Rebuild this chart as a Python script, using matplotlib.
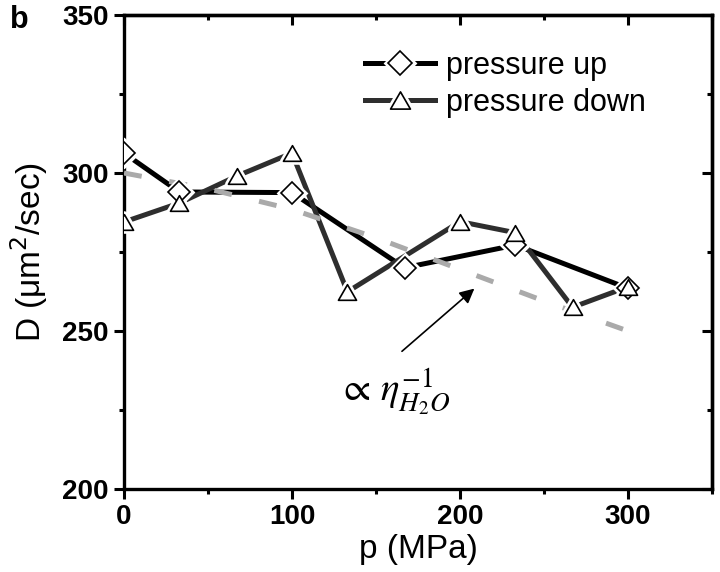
import matplotlib
matplotlib.use("Agg")
import matplotlib.pyplot as plt
from matplotlib.path import Path
from matplotlib.ticker import MultipleLocator

plt.rcParams['font.family'] = ['Liberation Sans', 'DejaVu Sans']

# data
p_up = [0, 33, 100, 167, 233, 300]
D_up = [306.3, 294.0, 293.8, 270.0, 277.2, 263.5]
p_down = [0, 33, 67, 100, 133, 200, 233, 267, 300]
D_down = [284.5, 290.5, 299.0, 306.3, 262.4, 284.6, 281.1, 257.5, 264.0]
p_model = [0, 50, 100, 150, 200, 250, 300]
D_model = [300.0, 295.0, 288.5, 279.5, 269.5, 259.5, 250.0]

x_ticks = [0, 100, 200, 300]
y_ticks = [200, 250, 300, 350]

fig = plt.figure(figsize=(7.2, 5.72), dpi=100)
ax = fig.add_axes([124/720, 1-489/572, 588/720, 474/572])

tri = Path([(-1, -0.866), (1, -0.866), (0, 0.866), (-1, -0.866)],
           [Path.MOVETO, Path.LINETO, Path.LINETO, Path.CLOSEPOLY])

# dashed model curve
ax.plot(p_model, D_model, color='#aaaaaa', lw=3.6, dashes=(3.6, 5.6), zorder=3,
        solid_capstyle='butt', dash_capstyle='butt')

# data lines
l_up, = ax.plot(p_up, D_up, color='black', lw=3.6, zorder=2)
l_dn, = ax.plot(p_down, D_down, color='#2e2e2e', lw=3.6, zorder=2)

# white halos around markers (gap between line and marker)
hh_up, = ax.plot(p_up, D_up, ls='none', marker='D', ms=11, mfc='white', mec='white', mew=5, zorder=4)
hh_dn, = ax.plot(p_down, D_down, ls='none', marker=tri, ms=13, mfc='white', mec='white', mew=5, zorder=4)
m_up, = ax.plot(p_up, D_up, ls='none', marker='D', ms=11, mfc='white', mec='black', mew=1.2, zorder=5)
m_dn, = ax.plot(p_down, D_down, ls='none', marker=tri, ms=13, mfc='white', mec='black', mew=1.2, zorder=5)

leg = ax.legend([(l_up, hh_up, m_up), (l_dn, hh_dn, m_dn)], ['pressure up', 'pressure down'],
                loc='upper left', bbox_to_anchor=(0.41, 0.925), frameon=False, fontsize=22,
                handlelength=2.3, handletextpad=0.35, labelspacing=0.25,
                borderpad=0, borderaxespad=0, markerscale=1.1)

ax.set_xlim(0, 350)
ax.set_ylim(200, 350)
ax.set_xticks(x_ticks)
ax.set_yticks(y_ticks)
ax.xaxis.set_minor_locator(MultipleLocator(50))
ax.yaxis.set_minor_locator(MultipleLocator(25))
ax.tick_params(which='major', direction='out', length=7, width=2.2, labelsize=20, pad=4)
ax.tick_params(which='minor', direction='out', length=3.5, width=2.2)
for lab in ax.get_xticklabels() + ax.get_yticklabels():
    lab.set_fontweight('bold')

for s in ax.spines.values():
    s.set_linewidth(2.4)

sx = ax.secondary_xaxis('top')
sx.set_xticks(x_ticks)
sx.xaxis.set_minor_locator(MultipleLocator(50))
sx.tick_params(which='major', direction='in', length=7, width=2.2, labeltop=False)
sx.tick_params(which='minor', direction='in', length=3.5, width=2.2)
sx.spines['top'].set_linewidth(2.4)
sy = ax.secondary_yaxis('right')
sy.set_yticks(y_ticks)
sy.yaxis.set_minor_locator(MultipleLocator(25))
sy.tick_params(which='major', direction='in', length=7, width=2.2, labelright=False)
sy.tick_params(which='minor', direction='in', length=3.5, width=2.2)
sy.spines['right'].set_linewidth(2.4)

ax.set_xlabel('p (MPa)', fontsize=24, labelpad=3)
ax.set_ylabel('D (μm$^2$/sec)', fontsize=24, labelpad=9)

ax.annotate('', xy=(209.8, 264.0), xytext=(164.2, 243.0),
            arrowprops=dict(arrowstyle='-|>', color='black', lw=1.2, mutation_scale=22))
ax.text(127.5, 230.5, r'$\propto\,\eta_{H_2O}^{-1}$', fontsize=28, math_fontfamily='stix',
        ha='left', va='center')

fig.text(10/720, 1-28/572, 'b', fontsize=22, fontweight='bold', ha='left', va='baseline')

fig.savefig('out.png', dpi=100)
